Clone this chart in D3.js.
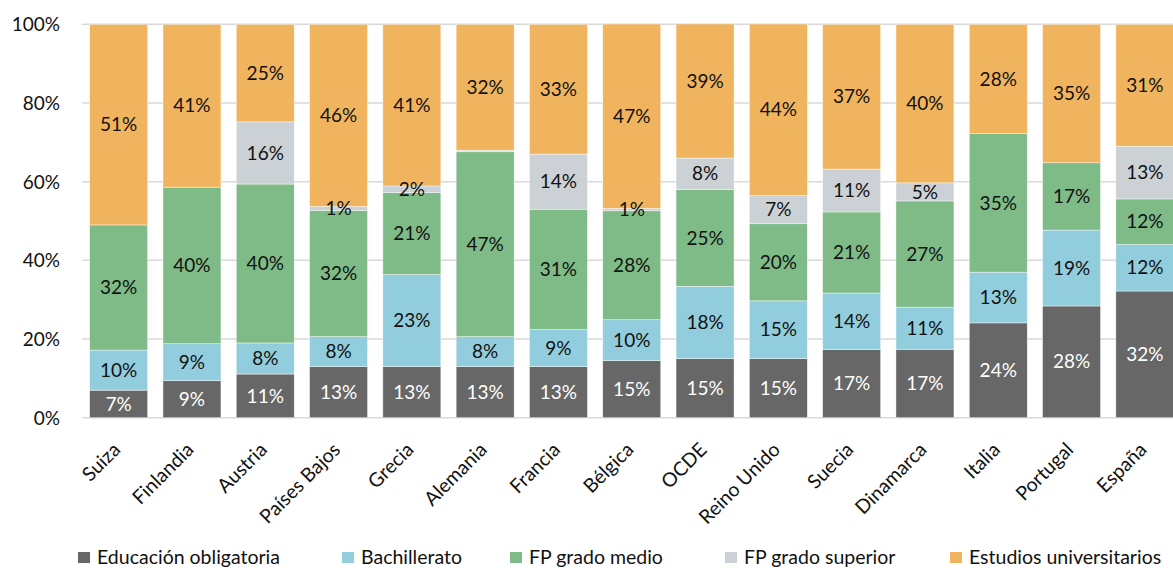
<!DOCTYPE html>
<html>
<head>
<meta charset="utf-8">
<script src="https://cdn.jsdelivr.net/npm/d3@7"></script>
<style>
  html, body { margin: 0; padding: 0; background: #fff; }
  svg { display: block; font-family: Lato, "Open Sans", sans-serif; }
</style>
</head>
<body>
<svg id="chart" width="1173" height="568"></svg>
<script>
// ---- data ----
const categories = ["Suiza", "Finlandia", "Austria", "Países Bajos", "Grecia", "Alemania", "Francia",
  "Bélgica", "OCDE", "Reino Unido", "Suecia", "Dinamarca", "Italia", "Portugal", "España"];
const seriesNames = ["Educación obligatoria", "Bachillerato", "FP grado medio", "FP grado superior", "Estudios universitarios"];
const educacionObligatoria   = [7.0, 9.4, 11.1, 13.0, 13.0, 13.0, 13.0, 14.5, 15.0, 15.0, 17.3, 17.4, 24.1, 28.4, 32.2];
const bachillerato           = [10.2, 9.4, 7.9, 7.6, 23.4, 7.6, 9.4, 10.4, 18.4, 14.7, 14.4, 10.7, 12.9, 19.3, 11.8];
const fpGradoMedio           = [31.8, 39.8, 40.4, 32.1, 20.8, 47.0, 30.6, 27.7, 24.6, 19.6, 20.6, 27.0, 35.2, 17.1, 11.6];
const fpGradoSuperior        = [0, 0, 15.8, 1.0, 1.7, 0.4, 14.0, 0.6, 8.0, 7.2, 10.9, 4.6, 0, 0, 13.4];
const estudiosUniversitarios = [51.0, 41.4, 24.8, 46.3, 41.1, 32.0, 33.0, 46.9, 39.0, 43.6, 36.8, 40.3, 27.8, 35.2, 31.0];
const yTicks = [0, 20, 40, 60, 80, 100];
const colors = ["#666766", "#92CDDD", "#7EBB87", "#CBD1D4", "#F0B45F"];
const labelColors = ["#ffffff", "#111111", "#111111", "#111111", "#111111"];

const seriesValues = [educacionObligatoria, bachillerato, fpGradoMedio, fpGradoSuperior, estudiosUniversitarios];
const rows = categories.map((c, i) => {
  const r = { cat: c };
  seriesNames.forEach((s, k) => r[s] = seriesValues[k][i]);
  return r;
});

// ---- layout ----
const svg = d3.select("#chart");
const plotTop = 24.3, plotBottom = 417.7;
const x = d3.scaleBand().domain(categories).range([82, 82 + 15 * 73.3]).paddingInner(0.209).paddingOuter(0.1045);
const y = d3.scaleLinear().domain([0, 100]).range([plotBottom, plotTop]);

svg.append("defs").append("clipPath").attr("id", "plotclip")
  .append("rect").attr("x", 0).attr("y", plotTop).attr("width", 1173).attr("height", plotBottom - plotTop + 1);

// gridlines
svg.append("g").selectAll("line").data(yTicks).join("line")
  .attr("x1", 82).attr("x2", 1173)
  .attr("y1", d => y(d)).attr("y2", d => y(d))
  .attr("stroke", "#D9D9D9").attr("stroke-width", 1.5);

// y axis labels
const yAxis = d3.axisLeft(y).tickValues(yTicks).tickFormat(d => d + "%").tickSize(0).tickPadding(0);
const ya = svg.append("g").attr("transform", "translate(60,0)").call(yAxis);
ya.select(".domain").remove();
ya.selectAll("text").attr("font-size", 19).attr("font-family", "Lato, sans-serif").attr("fill", "#111").attr("dy", "0.35em");

// stacks
const stack = d3.stack().keys(seriesNames);
const stacked = stack(rows);

const gBars = svg.append("g").attr("clip-path", "url(#plotclip)");
stacked.forEach((layer, k) => {
  gBars.append("g").selectAll("rect").data(layer).join("rect")
    .attr("x", d => x(d.data.cat))
    .attr("width", x.bandwidth())
    .attr("y", d => y(d[1]))
    .attr("height", d => Math.max(0, y(d[0]) - y(d[1])))
    .attr("fill", colors[k])
    .attr("stroke", "#ffffff").attr("stroke-width", 0.6).attr("stroke-opacity", 0.7);
});

// labels
stacked.forEach((layer, k) => {
  svg.append("g").selectAll("text").data(layer.filter(d => d[1] - d[0] >= 0.5)).join("text")
    .attr("x", d => x(d.data.cat) + x.bandwidth() / 2)
    .attr("y", d => y((d[0] + d[1]) / 2))
    .attr("dy", "0.35em")
    .attr("text-anchor", "middle")
    .attr("font-size", 19)
    .attr("fill", labelColors[k])
    .text(d => Math.round(seriesValues[k][categories.indexOf(d.data.cat)]) + "%");
});

// category labels
svg.append("g").selectAll("text").data(categories).join("text")
  .attr("transform", d => `translate(${x(d) + x.bandwidth() / 2 + 3},${451}) rotate(-45)`)
  .attr("text-anchor", "end")
  .attr("font-size", 19.5)
  .attr("fill", "#111")
  .text(d => d);

// legend
const legendTextX = [97, 361, 529, 744, 969];
const lg = svg.append("g");
seriesNames.forEach((s, k) => {
  lg.append("rect").attr("x", legendTextX[k] - 19).attr("y", 552).attr("width", 12).attr("height", 11).attr("fill", colors[k]);
  lg.append("text").attr("x", legendTextX[k]).attr("y", 564).attr("font-size", 19.5).attr("fill", "#111").text(s);
});
</script>
</body>
</html>
